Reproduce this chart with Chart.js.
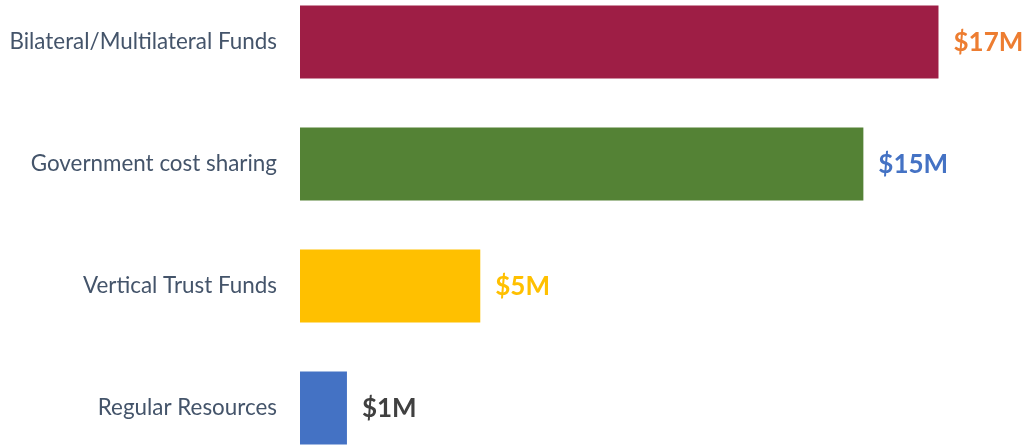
<!DOCTYPE html>
<html>
<head>
<meta charset="utf-8">
<script src="https://cdn.jsdelivr.net/npm/chart.js@4/dist/chart.umd.min.js"></script>
<style>
  html, body { margin: 0; padding: 0; background: #ffffff; overflow: hidden; }
  #c { position: absolute; left: 0; top: -19px; }
</style>
</head>
<body>
<canvas id="c" width="1026" height="488"></canvas>
<script>
// Funding sources (USD millions)
const categories = ['Bilateral/Multilateral Funds', 'Government cost sharing', 'Vertical Trust Funds', 'Regular Resources'];
const amounts = [17, 15, 4.8, 1.25];
const valueLabels = ['$17M', '$15M', '$5M', '$1M'];
const barColors = ['#9E1E45', '#548235', '#FFC000', '#4472C4'];
const labelColors = ['#ED7D31', '#4472C4', '#FFC000', '#404040'];

const FONT = "Lato, 'Open Sans', sans-serif";

// Writes each bar's amount just past its end
const valueLabelPlugin = {
  id: 'valueLabels',
  afterDatasetsDraw(chart) {
    const ctx = chart.ctx;
    const meta = chart.getDatasetMeta(0);
    ctx.save();
    ctx.font = 'bold 26px ' + FONT;
    ctx.textAlign = 'left';
    ctx.textBaseline = 'middle';
    meta.data.forEach((bar, i) => {
      ctx.fillStyle = labelColors[i];
      ctx.fillText(valueLabels[i], bar.x + 15, bar.y + 1);
    });
    ctx.restore();
  }
};

new Chart(document.getElementById('c'), {
  type: 'bar',
  data: {
    labels: categories,
    datasets: [{
      data: amounts,
      backgroundColor: barColors,
      borderWidth: 0,
      categoryPercentage: 1,
      barPercentage: 0.6
    }]
  },
  options: {
    indexAxis: 'y',
    responsive: false,
    animation: false,
    layout: { padding: 0 },
    plugins: { legend: { display: false }, tooltip: { enabled: false } },
    scales: {
      x: { display: false, min: 0, max: 19.33 },
      y: {
        grid: { display: false, drawTicks: false },
        border: { display: false },
        ticks: { color: '#44546A', font: { family: FONT, size: 22.4 }, padding: 23 },
        afterFit(scale) {
          scale.width = 300;
          scale.paddingTop = 0;
          scale.paddingBottom = 0;
        }
      }
    }
  },
  plugins: [valueLabelPlugin]
});
</script>
</body>
</html>
